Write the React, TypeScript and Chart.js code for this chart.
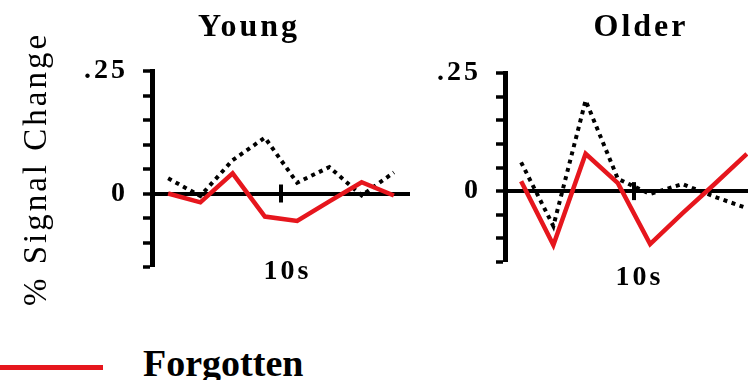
import React, { useEffect, useRef } from 'react';
import { Chart, registerables } from 'chart.js';

Chart.register(...registerables);

// ---- data ----
const timePoints = [1.25, 3.75, 6.25, 8.75, 11.25, 13.75, 16.25, 18.75];
const youngForgotten = [0.0, -0.018, 0.041, -0.047, -0.056, -0.016, 0.023, -0.004];
const youngRemembered = [0.031, -0.005, 0.068, 0.114, 0.022, 0.054, -0.004, 0.043];
const olderForgotten = [0.021, -0.114, 0.079, 0.017, -0.112, -0.047, 0.015, 0.079];
const olderRemembered = [0.061, -0.074, 0.192, 0.026, -0.006, 0.015, -0.012, -0.036];
const xTickValues = [10];
const xTickLabels = ['10s'];
const yTickValues = [-0.15, -0.1, -0.05, 0, 0.05, 0.1, 0.15, 0.2, 0.25];
const yLabelValues = [0.25, 0];
const yLabelTexts = ['.25', '0'];
const panelTitles = ['Young', 'Older'];
const yAxisTitle = '% Signal Change';
const legendLabel = 'Forgotten';

const SERIF = "'Liberation Serif', 'Times New Roman', Times, serif";
const RED = '#e6161d';
const CANVAS_H = 330;

const spacingPlugin = {
  id: 'letterSpacing',
  beforeUpdate(chart: any) {
    chart.ctx.letterSpacing = '3px';
  },
  beforeDraw(chart: any) {
    chart.ctx.letterSpacing = '3px';
  },
  afterDraw(chart: any) {
    chart.ctx.letterSpacing = '0px';
  },
};

const crossTickPlugin = {
  id: 'crossTick',
  beforeDatasetsDraw(chart: any) {
    const { ctx, scales } = chart;
    const x = scales.x;
    const y = scales.y;
    const py = y.getPixelForValue(0);
    ctx.save();
    ctx.strokeStyle = '#000';
    ctx.lineWidth = 4;
    xTickValues.forEach((v) => {
      const px = x.getPixelForValue(v);
      ctx.beginPath();
      ctx.moveTo(px, py - 9);
      ctx.lineTo(px, py + 9);
      ctx.stroke();
    });
    ctx.restore();
  },
};

type PanelProps = {
  title: string;
  forgotten: number[];
  remembered: number[];
  showYTitle: boolean;
  left: number;
  width: number;
  yAxisWidth: number;
  rightWidth: number;
  titlePadBottom: number;
  xAxisHeight: number;
  xLabelPad: number;
  xLabelOffset: number;
};

function Panel(p: PanelProps) {
  const ref = useRef<HTMLCanvasElement | null>(null);

  useEffect(() => {
    if (!ref.current) return;
    const near = (a: number, b: number) => Math.abs(a - b) < 1e-9;
    const chart = new Chart(ref.current, {
      type: 'line',
      data: {
        datasets: [
          {
            label: legendLabel,
            data: timePoints.map((t, i) => ({ x: t, y: p.forgotten[i] })),
            borderColor: RED,
            borderWidth: 4.5,
            pointRadius: 0,
            tension: 0,
            fill: false,
            borderJoinStyle: 'miter',
            xAxisID: 'x',
            yAxisID: 'y',
          },
          {
            label: 'Remembered',
            data: timePoints.map((t, i) => ({ x: t, y: p.remembered[i] })),
            borderColor: '#000',
            borderWidth: 4,
            borderDash: [4, 4.5],
            pointRadius: 0,
            tension: 0,
            fill: false,
            xAxisID: 'x',
            yAxisID: 'y',
          },
        ],
      },
      options: {
        responsive: false,
        animation: false,
        devicePixelRatio: 1,
        events: [],
        layout: { padding: 0 },
        plugins: {
          legend: { display: false },
          tooltip: { enabled: false },
          title: {
            display: true,
            text: p.title,
            color: '#000',
            font: { family: SERIF, size: 32, weight: 'bold' },
            padding: { top: 8.5, bottom: p.titlePadBottom },
          },
        },
        scales: {
          x: {
            type: 'linear',
            position: 'bottom',
            min: 0,
            max: 20,
            afterBuildTicks: (s: any) => {
              s.ticks = xTickValues.map((v) => ({ value: v }));
            },
            afterFit: (s: any) => {
              s.height = p.xAxisHeight;
            },
            ticks: {
              autoSkip: false,
              maxRotation: 0,
              mirror: true,
              color: '#000',
              font: { family: SERIF, size: 28, weight: 'bold' },
              padding: p.xLabelPad,
              labelOffset: p.xLabelOffset,
              callback: (v: any) => {
                const i = xTickValues.findIndex((t) => near(t, Number(v)));
                return i >= 0 ? xTickLabels[i] : '';
              },
            },
            grid: { display: false, drawTicks: false },
            border: { display: false },
          },
          y: {
            type: 'linear',
            position: 'left',
            min: -0.15,
            max: 0.25,
            afterBuildTicks: (s: any) => {
              s.ticks = yTickValues.map((v) => ({ value: v }));
            },
            afterFit: (s: any) => {
              s.width = p.yAxisWidth;
            },
            ticks: {
              autoSkip: false,
              color: '#000',
              font: { family: SERIF, size: 28, weight: 'bold' },
              padding: 15,
              callback: (v: any) => {
                const i = yLabelValues.findIndex((t) => near(t, Number(v)));
                return i >= 0 ? yLabelTexts[i] : '';
              },
            },
            grid: {
              drawOnChartArea: true,
              drawTicks: true,
              tickLength: 9,
              tickWidth: 3.5,
              tickColor: '#000',
              color: (c: any) => (c.tick && near(c.tick.value, 0) ? '#000' : 'rgba(0,0,0,0)'),
              lineWidth: (c: any) => (c.tick && near(c.tick.value, 0) ? 4 : 0),
            },
            border: { display: true, color: '#000', width: 5 },
            title: {
              display: p.showYTitle,
              text: yAxisTitle,
              color: '#000',
              font: { family: SERIF, size: 33, weight: 'normal' },
              padding: { top: 18, bottom: 0 },
            },
          },
          yRight: {
            type: 'linear',
            position: 'right',
            display: true,
            afterFit: (s: any) => {
              s.width = p.rightWidth;
            },
            ticks: { display: false },
            grid: { display: false, drawTicks: false },
            border: { display: false },
          },
        },
      } as any,
      plugins: [spacingPlugin, crossTickPlugin],
    });
    return () => chart.destroy();
  }, []);

  return (
    <canvas
      ref={ref}
      width={p.width}
      height={CANVAS_H}
      style={{ position: 'absolute', left: p.left, top: 0, width: p.width, height: CANVAS_H }}
    />
  );
}

export default function App() {
  return (
    <div
      style={{
        position: 'absolute',
        left: 0,
        top: 0,
        width: 748,
        height: 380,
        overflow: 'hidden',
        background: '#fff',
      }}
    >
      <Panel
        title={panelTitles[0]}
        forgotten={youngForgotten}
        remembered={youngRemembered}
        showYTitle={true}
        left={0}
        width={498}
        yAxisWidth={152}
        rightWidth={88}
        titlePadBottom={24.1}
        xAxisHeight={CANVAS_H - 267}
        xLabelPad={-21.8}
        xLabelOffset={6.5}
      />
      <Panel
        title={panelTitles[1]}
        forgotten={olderForgotten}
        remembered={olderRemembered}
        showYTitle={false}
        left={420}
        width={442}
        yAxisWidth={85}
        rightWidth={99}
        titlePadBottom={26.1}
        xAxisHeight={CANVAS_H - 262}
        xLabelPad={-32.8}
        xLabelOffset={5.5}
      />
      <div
        style={{
          position: 'absolute',
          left: 0,
          top: 365,
          width: 103,
          height: 5,
          background: RED,
        }}
      />
      <div
        style={{
          position: 'absolute',
          left: 143,
          top: 344,
          fontFamily: SERIF,
          fontWeight: 'bold',
          fontSize: 38,
          lineHeight: '38px',
          color: '#000',
          whiteSpace: 'nowrap',
        }}
      >
        {legendLabel}
      </div>
    </div>
  );
}
